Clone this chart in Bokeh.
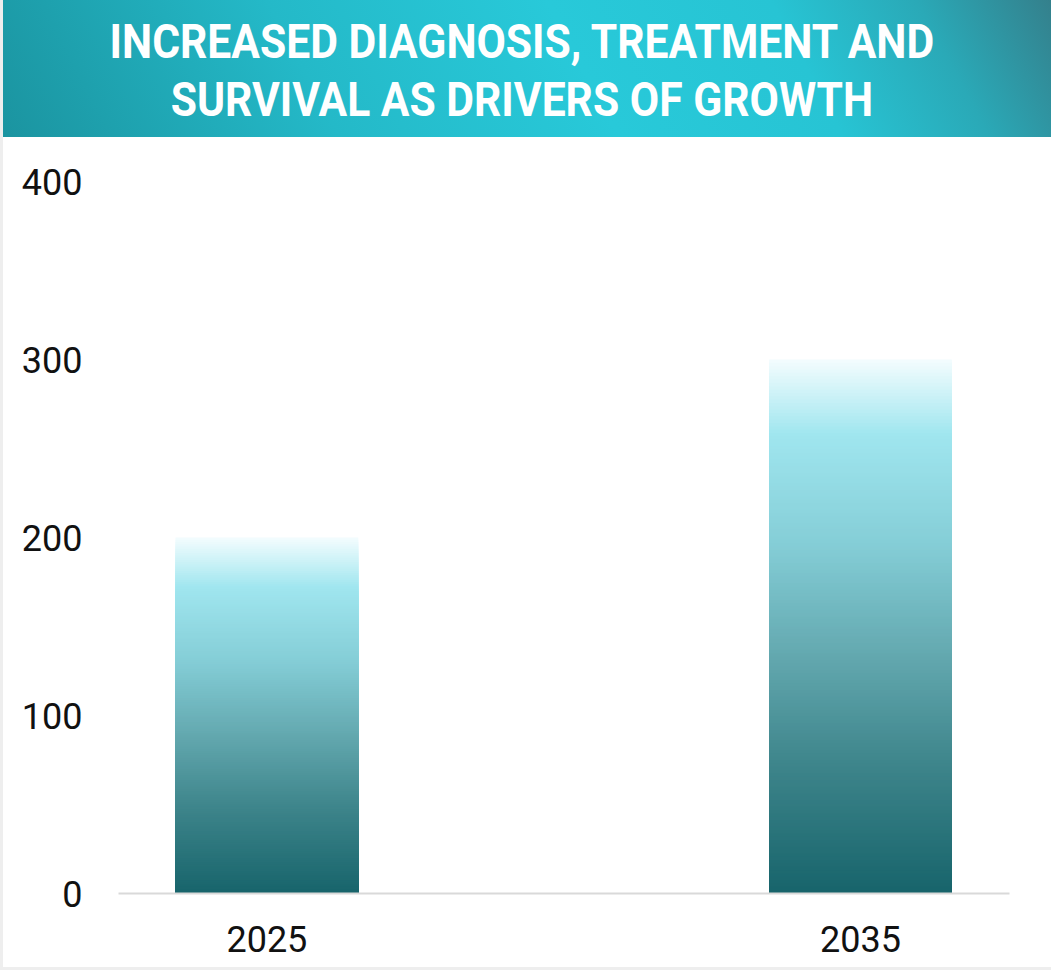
import numpy as np
from bokeh.plotting import figure
from bokeh.models import Div, Range1d, FixedTicker, ColumnDataSource
from bokeh.layouts import column
from bokeh.embed import file_html
from bokeh.resources import INLINE

# ---- data ----
title_lines = ["INCREASED DIAGNOSIS, TREATMENT AND", "SURVIVAL AS DRIVERS OF GROWTH"]
categories = ["2025", "2035"]
values = [200, 300]
y_ticks = [0, 100, 200, 300, 400]

# gradient stops (fraction of bar height -> colour)
stop_pos = [0.0, 0.25, 0.45, 0.65, 0.86, 1.0]
stop_col = ["#17646b", "#3f868c", "#64a9b0", "#84cdd6", "#a0e6ef", "#f4fdfe"]

def hex2rgb(h):
    h = h.lstrip("#")
    return np.array([int(h[i:i + 2], 16) for i in (0, 2, 4)], dtype=float)

stop_rgb = np.array([hex2rgb(c) for c in stop_col])

def grad_color(f):
    r = np.interp(f, stop_pos, stop_rgb[:, 0])
    g = np.interp(f, stop_pos, stop_rgb[:, 1])
    b = np.interp(f, stop_pos, stop_rgb[:, 2])
    return "#%02x%02x%02x" % (int(round(r)), int(round(g)), int(round(b)))

# ---- header ----
header_html = (
    '<div style="width:1048px;height:137px;display:flex;align-items:center;justify-content:center;">'
    '<div style="transform:scaleX(0.87);transform-origin:center;white-space:nowrap;text-align:center;'
    'font-family:Roboto;font-weight:bold;font-size:49px;line-height:58px;color:#ffffff;'
    'margin-left:-10px;margin-top:4px;">'
    + "<br>".join(title_lines) +
    '</div></div>'
)
header = Div(text=header_html, width=1048, height=137, margin=(0, 0, 0, 3),
             styles={"background": "linear-gradient(62deg, #1b94a0 0%, #24b9c8 30%, #28c9d9 55%, #27c4d4 75%, #2aa9b7 88%, #34808c 100%)"})

# ---- chart ----
p = figure(width=1048, height=830, output_backend="svg", toolbar_location=None,
           x_range=Range1d(-0.25, 1.251), y_range=Range1d(0, 400),
           min_border_left=115, min_border_right=42, min_border_top=44, min_border_bottom=74,
           margin=(0, 0, 0, 3), styles={"background-color": "#ffffff"})
p.outline_line_color = None
p.background_fill_color = None
p.border_fill_color = None
p.xgrid.grid_line_color = None
p.ygrid.grid_line_color = None

bar_w = 0.308
n_slices = 160
lefts, rights, tops, colors = [], [], [], []
for i, v in enumerate(values):
    for k in range(n_slices, 0, -1):
        f = k / n_slices
        lefts.append(i - bar_w / 2)
        rights.append(i + bar_w / 2)
        tops.append(v * f)
        colors.append(grad_color(f - 0.5 / n_slices))
src = ColumnDataSource(dict(left=lefts, right=rights, top=tops, bottom=[0] * len(tops), color=colors))
p.quad(left="left", right="right", top="top", bottom="bottom", fill_color="color",
       line_color=None, source=src)

# axes
p.xaxis.ticker = FixedTicker(ticks=list(range(len(categories))))
p.xaxis.major_label_overrides = {i: c for i, c in enumerate(categories)}
p.xaxis.axis_line_color = "#d9d9d9"
p.xaxis.axis_line_width = 2
p.xaxis.major_tick_line_color = None
p.xaxis.minor_tick_line_color = None
p.xaxis.major_label_text_font = "Roboto"
p.xaxis.major_label_text_font_size = "36px"
p.xaxis.major_label_text_color = "#111111"
p.xaxis.major_label_standoff = 26

p.yaxis.ticker = FixedTicker(ticks=y_ticks)
p.yaxis.axis_line_color = None
p.yaxis.major_tick_line_color = None
p.yaxis.minor_tick_line_color = None
p.yaxis.major_label_text_font = "Roboto"
p.yaxis.major_label_text_font_size = "36px"
p.yaxis.major_label_text_color = "#111111"
p.yaxis.major_label_standoff = 30

layout = column(header, p, width=1051, height=970, spacing=0,
                styles={"background-color": "#eeeeee"})

open("out.html", "w").write(file_html(layout, INLINE))
